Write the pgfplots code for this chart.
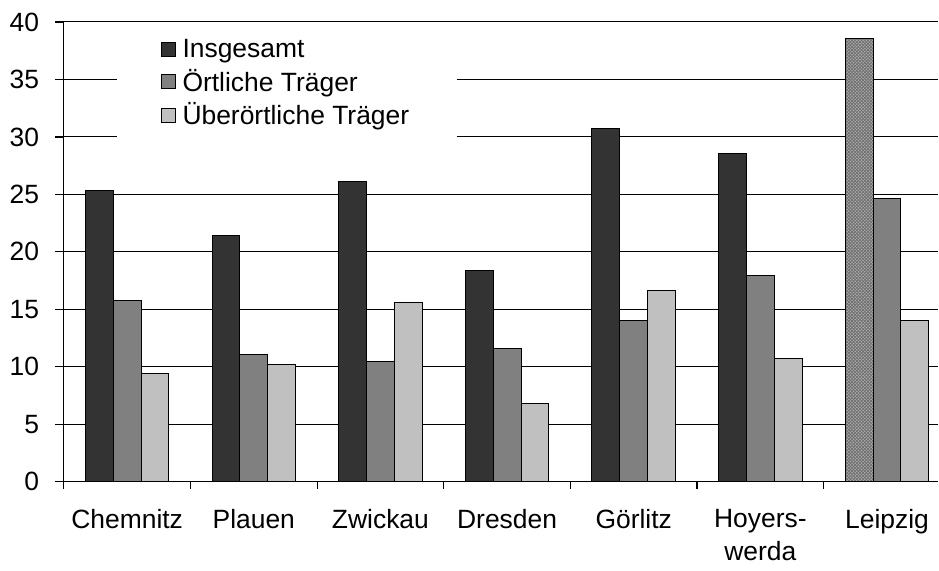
\documentclass[border=0pt]{standalone}
\usepackage{fontspec}
\setmainfont{Liberation Sans}
\usepackage{pgfplots}
\pgfplotsset{compat=1.18}
\usetikzlibrary{patterns}
\definecolor{cdark}{HTML}{333333}
\definecolor{cmid}{HTML}{808080}
\definecolor{clight}{HTML}{C0C0C0}
\definecolor{cpat}{HTML}{AEAEAE}
\definecolor{cpatline}{HTML}{6E6E6E}

% fine diagonal crosshatch for the Leipzig bar
\pgfdeclarepatternformonly{finehatch}{\pgfqpoint{-0.2pt}{-0.2pt}}{\pgfqpoint{1.8pt}{1.8pt}}{\pgfqpoint{1.6pt}{1.6pt}}{
  \pgfsetlinewidth{0.35pt}
  \pgfpathmoveto{\pgfqpoint{0pt}{0pt}}\pgfpathlineto{\pgfqpoint{1.6pt}{1.6pt}}
  \pgfpathmoveto{\pgfqpoint{0pt}{1.6pt}}\pgfpathlineto{\pgfqpoint{1.6pt}{0pt}}
  \pgfusepath{stroke}
}

\begin{document}
\begin{tikzpicture}
  \begin{axis}[
      scale only axis,
      width=438.5pt, height=230.5pt,
      xmin=-0.5, xmax=6.406, ymin=0, ymax=40,
      axis lines*=left,
      axis line style={black, line width=0.6pt},
      ytick={0,5,...,40},
      xtick={0,...,6},
      xticklabels={Chemnitz,Plauen,Zwickau,Dresden,Görlitz,{Hoyers-\\werda},Leipzig},
      minor xtick={-0.5,0.5,...,5.5},
      major x tick style={draw=none},
      tick align=outside,
      tick pos=left,
      major tick length=4.5pt,
      minor tick length=3.5pt,
      tick style={black, line width=0.6pt},
      ymajorgrids,
      grid style={black, line width=0.5pt},
      /pgf/number format/assume math mode=true,
      tick label style={font=\fontsize{13.25}{16.2}\selectfont},
      y tick label style={xshift=-4.4pt},
      x tick label style={align=center, yshift=-6pt},
      legend style={at={(0.06,0.985)}, anchor=north west, draw=none, fill=white,
        font=\fontsize{13.25}{16}\selectfont, row sep=0.3pt, inner xsep=22pt, inner ysep=3pt},
      legend cell align=left,
      legend image code/.code={\draw[#1, draw=black, line width=0.5pt] (0pt,-3.5pt) rectangle (7pt,3.5pt); \path (8.5pt,0pt);},
    ]
    \addplot[ybar, bar width=0.22, bar shift=-0.22, fill=cdark, draw=black, line width=0.5pt]
      coordinates {(0,25.3) (1,21.4) (2,26.1) (3,18.4) (4,30.7) (5,28.6)};
    \addlegendentry{Insgesamt}
    \addplot[ybar, bar width=0.22, bar shift=0, fill=cmid, draw=black, line width=0.5pt]
      coordinates {(0,15.8) (1,11.1) (2,10.5) (3,11.6) (4,14.0) (5,17.9) (6,24.6)};
    \addlegendentry{Örtliche Träger}
    \addplot[ybar, bar width=0.22, bar shift=0.22, fill=clight, draw=black, line width=0.5pt]
      coordinates {(0,9.45) (1,10.2) (2,15.6) (3,6.8) (4,16.6) (5,10.7) (6,14.0)};
    \addlegendentry{Überörtliche Träger}
    \addplot[ybar, bar width=0.22, bar shift=-0.22, fill=cpat, draw=black, line width=0.5pt,
      postaction={pattern=finehatch, pattern color=cpatline}, forget plot]
      coordinates {(6,38.6)};
  \end{axis}
  \path (current bounding box.west) ++(-1.5pt,0pt);
  \path (current bounding box.north) ++(0pt,3pt);
  \path (current bounding box.south) ++(0pt,-1.5pt);
\end{tikzpicture}
\end{document}
